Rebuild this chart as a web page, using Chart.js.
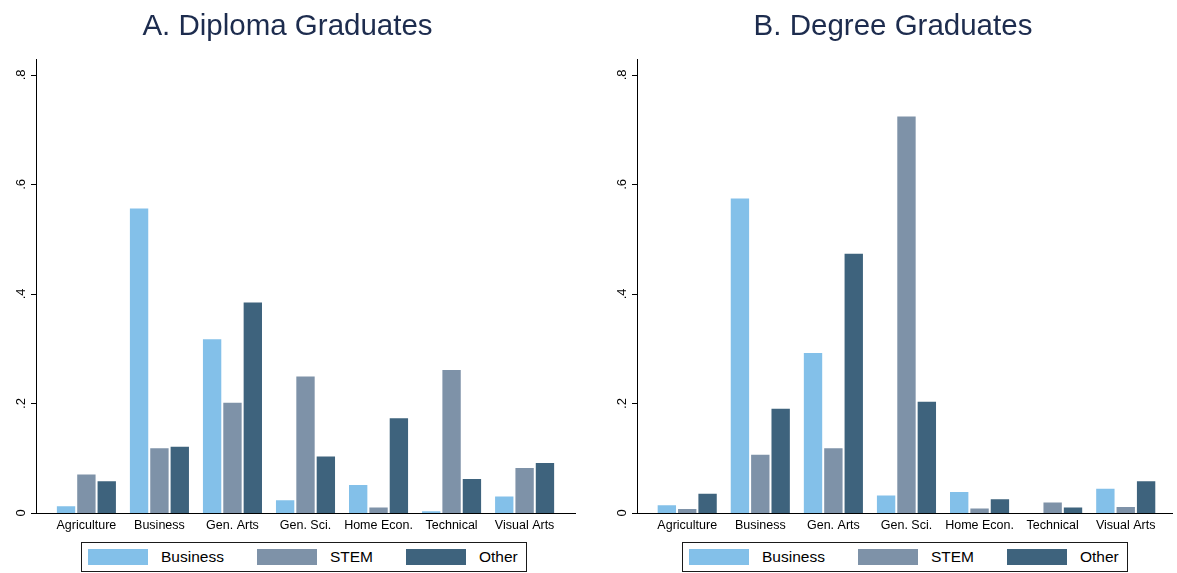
<!DOCTYPE html>
<html>
<head>
<meta charset="utf-8">
<script src="https://cdn.jsdelivr.net/npm/chart.js@4.4.1/dist/chart.umd.min.js"></script>
<style>
  html, body { margin: 0; padding: 0; background: #fff; }
  body { width: 1177px; height: 573px; position: relative; overflow: hidden;
         font-family: "Liberation Sans", Arial, Helvetica, sans-serif; }
  .panel { position: absolute; top: 0; }
  .legend { position: absolute; top: 542px; height: 30px; box-sizing: border-box;
            border: 1px solid #1a1a1a; display: flex; align-items: center;
            padding: 0 8px 0 6px; font-size: 15.5px; color: #000; white-space: nowrap; }
  .legend .item { display: flex; align-items: center; margin-right: 33px; }
  .legend .item:last-child { margin-right: 0; }
  .legend .sw { width: 60px; height: 16px; margin-right: 13px; }
</style>
</head>
<body>
<canvas id="chartA" class="panel" width="578" height="540" style="left:0"></canvas>
<canvas id="chartB" class="panel" width="570" height="540" style="left:614px"></canvas>
<div id="legendA" class="legend" style="left:81px"></div>
<div id="legendB" class="legend" style="left:682px"></div>

<script>
// Fields of study along the x axis
const fields = ['Agriculture', 'Business', 'Gen. Arts', 'Gen. Sci.', 'Home Econ.', 'Technical', 'Visual Arts'];
// Occupation groups (one bar colour each)
const seriesNames = ['Business', 'STEM', 'Other'];
const seriesColors = ['#83c0e9', '#7e92a8', '#3e637d'];

// Panel A: diploma graduates, share by occupation group
const diplomaBusiness = [0.014, 0.558, 0.319, 0.025, 0.053, 0.005, 0.032];
const diplomaStem     = [0.072, 0.120, 0.203, 0.251, 0.012, 0.263, 0.084];
const diplomaOther    = [0.060, 0.123, 0.386, 0.105, 0.175, 0.064, 0.093];

// Panel B: degree graduates, share by occupation group
const degreeBusiness = [0.016, 0.576, 0.294, 0.034, 0.040, 0.000, 0.046];
const degreeStem     = [0.009, 0.108, 0.120, 0.726, 0.010, 0.021, 0.013];
const degreeOther    = [0.037, 0.192, 0.475, 0.205, 0.027, 0.012, 0.060];

// Y axis ticks
const yTicks = [0, 0.2, 0.4, 0.6, 0.8];
const yTickLabels = ['0', '.2', '.4', '.6', '.8'];

const FONT = '"Liberation Sans", Arial, Helvetica, sans-serif';

// Short outward tick marks on the left edge of the y axis
const yTickMarks = {
  id: 'yTickMarks',
  afterDraw(chart) {
    const y = chart.scales.y;
    const ctx = chart.ctx;
    const x0 = chart.chartArea.left;
    ctx.save();
    ctx.strokeStyle = '#000';
    ctx.lineWidth = 1;
    ctx.lineCap = 'butt';
    yTicks.forEach(v => {
      const py = Math.round(y.getPixelForValue(v)) + 0.5;
      ctx.beginPath();
      ctx.moveTo(x0 - 5, py);
      ctx.lineTo(x0, py);
      ctx.stroke();
    });
    ctx.restore();
  }
};

function makeDatasets(seriesValues) {
  return seriesValues.map((vals, s) => ({
    label: seriesNames[s],
    data: vals.map((v, i) => ({ x: i, y: v })),
    backgroundColor: seriesColors[s],
    borderColor: 'rgba(255,255,255,0.55)',
    borderWidth: 1,
    borderSkipped: 'bottom',
    categoryPercentage: 0.836,
    barPercentage: 1.0
  }));
}

function makeChart(canvasId, title, seriesValues, opts) {
  return new Chart(document.getElementById(canvasId), {
    type: 'bar',
    data: { datasets: makeDatasets(seriesValues) },
    plugins: [yTickMarks],
    options: {
      responsive: false,
      animation: false,
      layout: { padding: { left: 0, right: opts.rightPad, top: 0, bottom: 0 } },
      plugins: {
        legend: { display: false },
        tooltip: { enabled: false },
        title: {
          display: true,
          text: title,
          color: '#1d2c4e',
          font: { family: FONT, size: 29.5, weight: 'normal' },
          padding: { top: 9, bottom: 14.6 }
        }
      },
      scales: {
        x: {
          type: 'linear',
          offset: false,
          min: opts.xMin,
          max: opts.xMax,
          afterBuildTicks: (scale) => { scale.ticks = fields.map((_, i) => ({ value: i })); },
          afterFit: (scale) => { scale.height = 27; },
          grid: { display: false, drawTicks: false, offset: false },
          border: { display: true, color: '#000', width: 1 },
          ticks: {
            autoSkip: false,
            maxRotation: 0,
            minRotation: 0,
            padding: 5,
            color: '#000',
            font: { family: FONT, size: 12.5 },
            callback: (value) => fields[value]
          }
        },
        y: {
          min: 0,
          max: 0.829,
          afterBuildTicks: (scale) => { scale.ticks = yTicks.map(v => ({ value: v })); },
          afterFit: (scale) => { scale.width = opts.yWidth; },
          grid: { display: false, drawOnChartArea: false, drawTicks: false },
          border: { display: true, color: '#000', width: 1 },
          ticks: {
            minRotation: 90,
            maxRotation: 90,
            crossAlign: 'center',
            padding: 9,
            color: '#000',
            font: { family: FONT, size: 13 },
            callback: (value, index) => yTickLabels[index]
          }
        }
      }
    }
  });
}

function buildLegend(id) {
  const el = document.getElementById(id);
  seriesNames.forEach((name, s) => {
    const item = document.createElement('div');
    item.className = 'item';
    const sw = document.createElement('span');
    sw.className = 'sw';
    sw.style.background = seriesColors[s];
    const txt = document.createElement('span');
    txt.textContent = name;
    item.appendChild(sw);
    item.appendChild(txt);
    el.appendChild(item);
  });
}

makeChart('chartA', 'A. Diploma Graduates',
  [diplomaBusiness, diplomaStem, diplomaOther],
  { xMin: -0.69, xMax: 6.69, yWidth: 36, rightPad: 3 });

makeChart('chartB', 'B. Degree Graduates',
  [degreeBusiness, degreeStem, degreeOther],
  { xMin: -0.687, xMax: 6.633, yWidth: 23, rightPad: 12 });

buildLegend('legendA');
buildLegend('legendB');
</script>
</body>
</html>
